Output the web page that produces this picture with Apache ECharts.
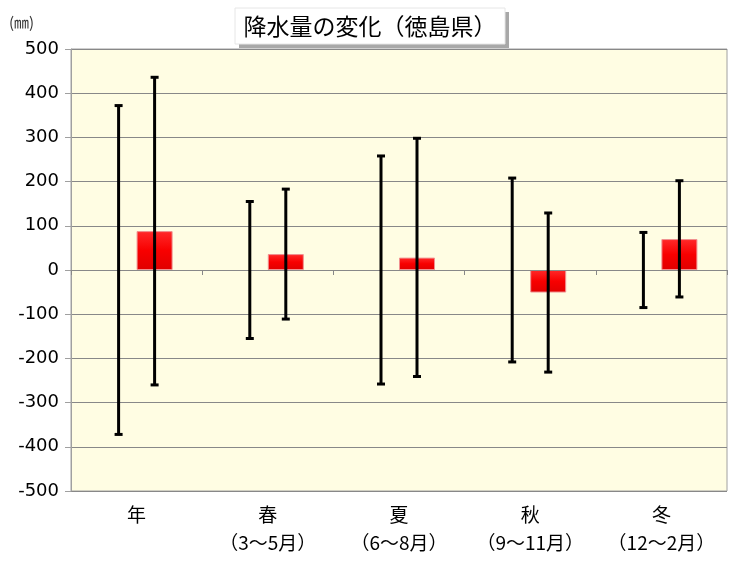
<!DOCTYPE html>
<html><head><meta charset="utf-8">
<script src="https://cdn.jsdelivr.net/npm/echarts@6/dist/echarts.min.js"></script>
<style>html,body{margin:0;padding:0;background:#fff;}#c{width:742px;height:580px;}</style>
</head><body><div id="c"></div>
<script>
const categories = ['年', '春\n（3〜5月）', '夏\n（6〜8月）', '秋\n（9〜11月）', '冬\n（12〜2月）'];
const yTicks = [-500, -400, -300, -200, -100, 0, 100, 200, 300, 400, 500];
// natural variability range (left whiskers)
const naturalLow  = [-372, -155, -258, -208, -85];
const naturalHigh = [372, 155, 258, 208, 85];
// projected change (bar) and its range (right whiskers)
const changeValues = [88, 36, 28, -51, 70];
const changeLow  = [-260, -111, -241, -231, -61];
const changeHigh = [436, 183, 298, 129, 202];

const chart = echarts.init(document.getElementById('c'));
const FONT = 'Noto Sans CJK JP';

function whisker(offset) {
  return function (params, api) {
    const x = api.value(0);
    const lo = api.coord([x, api.value(1)]);
    const hi = api.coord([x, api.value(2)]);
    const cx = lo[0] + offset;
    const st = { stroke: '#000', lineWidth: 3 };
    return { type: 'group', children: [
      { type: 'line', shape: { x1: cx, y1: hi[1], x2: cx, y2: lo[1] }, style: st },
      { type: 'line', shape: { x1: cx - 4, y1: hi[1], x2: cx + 4, y2: hi[1] }, style: st },
      { type: 'line', shape: { x1: cx - 4, y1: lo[1], x2: cx + 4, y2: lo[1] }, style: st }
    ]};
  };
}

chart.setOption({
  animation: false,
  backgroundColor: '#ffffff',
  graphic: [
    { type: 'rect', shape: { x: 239, y: 12, width: 270, height: 36 }, style: { fill: '#a8a8a8' }, z: 1 },
    { type: 'rect', shape: { x: 235, y: 8, width: 270, height: 36 }, style: { fill: '#fff', stroke: '#e6e6e6', lineWidth: 1 }, z: 2 },
    { type: 'text', x: 370, y: 26, z: 3, style: { text: '降水量の変化（徳島県）', font: '23px "' + FONT + '"', fill: '#000', align: 'center', verticalAlign: 'middle' } },
    { type: 'text', x: 9, y: 22, z: 3, style: { text: '(㎜)', font: '15px "' + FONT + '"', fill: '#333', align: 'left', verticalAlign: 'middle' } }
  ],
  grid: { left: 71, right: 15, top: 49, bottom: 89, show: true, backgroundColor: '#fffde3', borderColor: '#a0a0a0', borderWidth: 1 },
  xAxis: [
    { type: 'category', data: categories, axisLine: { onZero: true, lineStyle: { color: '#888', width: 1 } },
      axisTick: { show: true, inside: false, length: 5, lineStyle: { color: '#888' } }, axisLabel: { show: false }, z: 5 },
    { type: 'category', data: categories, position: 'bottom', axisLine: { show: false, onZero: false }, axisTick: { show: false },
      axisLabel: { show: true, color: '#000', fontFamily: FONT, fontSize: 19, lineHeight: 28, margin: 10, interval: 0 } }
  ],
  yAxis: {
    type: 'value', min: yTicks[0], max: yTicks[yTicks.length - 1], interval: 100,
    axisLine: { show: true, lineStyle: { color: '#a0a0a0' } },
    axisTick: { show: true, length: 6, lineStyle: { color: '#a0a0a0' } },
    splitLine: { show: true, lineStyle: { color: '#888', width: 1 } },
    axisLabel: { color: '#000', fontFamily: 'DejaVu Sans', fontSize: 18, margin: 12 }
  },
  series: [
    { type: 'bar', data: categories.map(() => 0), barWidth: 36, barGap: '0%', itemStyle: { color: 'transparent' }, silent: true },
    { type: 'bar', data: changeValues, barWidth: 36, barGap: '0%',
      itemStyle: { color: { type: 'linear', x: 0, y: 0, x2: 0, y2: 1, colorStops: [{ offset: 0, color: '#ff2a2a' }, { offset: 0.5, color: '#f80000' }, { offset: 1, color: '#e00000' }] },
        borderColor: '#f09090', borderWidth: 1 }, z: 3 },
    { type: 'custom', renderItem: whisker(-18), data: categories.map((c, i) => [i, naturalLow[i], naturalHigh[i]]), z: 6 },
    { type: 'custom', renderItem: whisker(18), data: categories.map((c, i) => [i, changeLow[i], changeHigh[i]]), z: 6 }
  ]
});
</script></body></html>
